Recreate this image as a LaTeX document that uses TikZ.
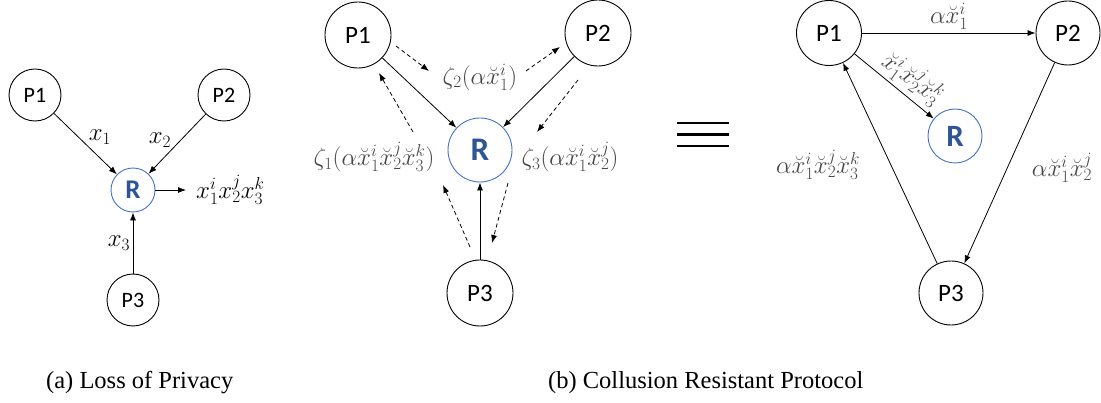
\documentclass[tikz,border=0pt]{standalone}
\usepackage{fontspec}
\setmainfont{Liberation Serif}
\newfontfamily\calib{Carlito}
\usetikzlibrary{arrows.meta}
\definecolor{rblue}{HTML}{2F5597}
\definecolor{rring}{HTML}{4472C4}
\definecolor{lbl}{gray}{0.28}
\tikzset{
  pnode/.style={circle, draw=black, line width=0.9pt, inner sep=0pt, font=\calib\fontsize{25}{27}\selectfont},
  rnode/.style={circle, draw=rring, line width=0.9pt, inner sep=0pt, text=rblue, font=\calib\bfseries\fontsize{33}{34}\selectfont},
  conn/.style={line width=0.8pt, -{Latex[length=8pt,width=6pt]}},
  dconn/.style={conn, dash pattern=on 4pt off 3pt},
  mlab/.style={inner sep=0pt, font=\fontsize{25}{28}\selectfont},
  glab/.style={mlab, text=lbl},
  captext/.style={inner sep=0pt, anchor=west, font=\fontsize{24.5}{26}\selectfont}
}
\begin{document}
\begin{tikzpicture}[x=1pt,y=-1pt]
\useasboundingbox (0,0) rectangle (1101,403);
% ---------- panel (a)
\node[pnode, minimum size=52pt, font=\calib\fontsize{22}{24}\selectfont] (a1) at (35,95) {P1};
\node[pnode, minimum size=52pt, font=\calib\fontsize{22}{24}\selectfont] (a2) at (224,95) {P2};
\node[pnode, minimum size=52pt, font=\calib\fontsize{22}{24}\selectfont] (a3) at (133,300) {P3};
\node[rnode, minimum size=44pt, font=\calib\bfseries\fontsize{27}{28}\selectfont] (ar) at (133,190) {R};
\coordinate (aout) at (186,190);
\draw[conn] (a1) -- (ar);
\draw[conn] (a2) -- (ar);
\draw[conn] (a3) -- (ar);
\draw[conn] (ar) -- (aout);
\node[mlab] (ax1) at (100,137) {$x_1$};
\node[mlab] (ax2) at (160,140) {$x_2$};
\node[mlab] (ax3) at (119,243) {$x_3$};
\node[mlab, anchor=west] (axo) at (196,190) {$x_1^i x_2^j x_3^k$};
% ---------- panel (b)
\node[pnode, minimum size=66pt] (b1) at (358,35) {P1};
\node[pnode, minimum size=66pt] (b2) at (598,33) {P2};
\node[pnode, minimum size=66pt] (b3) at (480,293) {P3};
\node[rnode, minimum size=64pt] (br) at (480,150) {R};
\draw[conn] (b1) -- (br);
\draw[conn] (b2) -- (br);
\draw[conn] (b3) -- (br);
\coordinate (d1s) at (396,46);  \coordinate (d1e) at (429,71);
\coordinate (d2s) at (526,71);  \coordinate (d2e) at (560,47);
\coordinate (d3s) at (578,80);  \coordinate (d3e) at (537,132);
\coordinate (d4s) at (508,183); \coordinate (d4e) at (492,243);
\coordinate (d5s) at (470,247); \coordinate (d5e) at (443,185);
\coordinate (d6s) at (413,132); \coordinate (d6e) at (379,73);
\draw[dconn] (d1s) -- (d1e);
\draw[dconn] (d2s) -- (d2e);
\draw[dconn] (d3s) -- (d3e);
\draw[dconn] (d4s) -- (d4e);
\draw[dconn] (d5s) -- (d5e);
\draw[dconn] (d6s) -- (d6e);
\node[glab] (bz2) at (480,77) {$\zeta_2(\alpha\breve{x}_1^i)$};
\node[glab] (bz1) at (374,157) {$\zeta_1(\alpha\breve{x}_1^i\breve{x}_2^j\breve{x}_3^k)$};
\node[glab] (bz3) at (570,157) {$\zeta_3(\alpha\breve{x}_1^i\breve{x}_2^j)$};
% ---------- equivalence sign
\draw[line width=2.6pt] (677,123) -- (729,123);
\draw[line width=2.6pt] (677,134.5) -- (729,134.5);
\draw[line width=2.6pt] (677,146) -- (729,146);
% ---------- panel (c)
\node[pnode, minimum size=65pt] (c1) at (829,33) {P1};
\node[pnode, minimum size=64pt] (c2) at (1068,33) {P2};
\node[pnode, minimum size=64pt] (c3) at (951,293) {P3};
\node[rnode, minimum size=54pt, font=\calib\bfseries\fontsize{31}{32}\selectfont] (cr) at (955,136) {R};
\draw[conn] (c1) -- (c2);
\draw[conn] (c1) -- (cr);
\draw[conn] (c2) -- (c3);
\draw[conn] (c3) -- (c1);
\node[glab] (cl12) at (949,16) {$\alpha\breve{x}_1^i$};
\node[glab, rotate=-36] (cl1r) at (913,78) {$\breve{x}_1^i\breve{x}_2^j\breve{x}_3^k$};
\node[glab] (cl23) at (1062,168) {$\alpha\breve{x}_1^i\breve{x}_2^j$};
\node[glab] (cl31) at (818,165) {$\alpha\breve{x}_1^i\breve{x}_2^j\breve{x}_3^k$};
% ---------- captions
\node[captext] (capa) at (46,383) {(a) Loss of Privacy};
\node[captext] (capb) at (548,383) {(b) Collusion Resistant Protocol};
\end{tikzpicture}
\end{document}
